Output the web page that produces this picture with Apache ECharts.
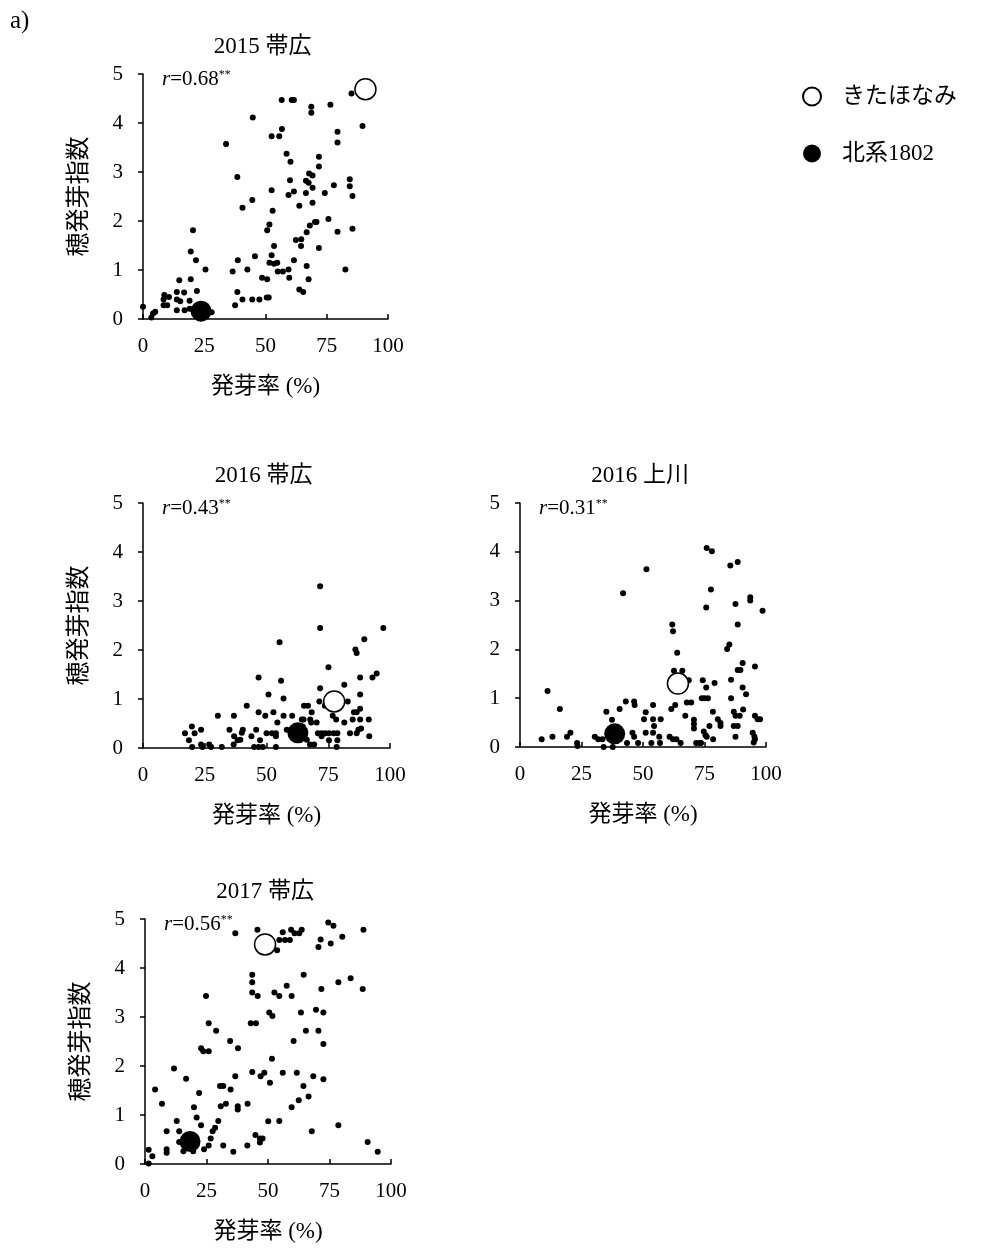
<!DOCTYPE html>
<html>
<head>
<meta charset="utf-8">
<script src="https://cdn.jsdelivr.net/npm/echarts@6/dist/echarts.min.js"></script>
<style>
  html, body { margin: 0; padding: 0; background: #fff; }
  #chart { width: 983px; height: 1251px; }
</style>
</head>
<body>
<div id="chart"></div>
<script>
// Germination rate (%) vs. pre-harvest sprouting index, one [x, y] pair per line
const obihiro2015 = [
  [85.1,4.6],[56.6,4.47],[60.7,4.47],[61.6,4.47],[68.7,4.33],[68.7,4.21],[76.5,4.37],[44.8,4.11],
  [89.6,3.94],[79.4,3.82],[79.4,3.6],[33.9,3.57],[52.5,3.73],[55.6,3.73],[56.7,3.88],[58.6,3.37],
  [60.2,3.21],[71.8,3.31],[71.8,3.11],[38.5,2.9],[60.0,2.83],[67.8,2.97],[69.2,2.93],[66.5,2.82],
  [67.6,2.78],[69.2,2.68],[84.4,2.85],[84.4,2.71],[85.5,2.51],[77.9,2.73],[74.2,2.57],[52.5,2.63],
  [59.4,2.53],[61.6,2.6],[66.5,2.57],[44.6,2.43],[40.6,2.27],[63.8,2.31],[69.2,2.37],[52.9,2.21],
  [75.7,2.04],[70.8,1.98],[70.2,1.98],[68.1,1.91],[51.6,1.93],[50.7,1.81],[85.5,1.84],[79.4,1.78],
  [66.8,1.77],[20.4,1.81],[62.4,1.61],[64.6,1.63],[64.5,1.49],[53.5,1.49],[71.8,1.45],[19.5,1.38],
  [21.6,1.2],[38.7,1.2],[45.7,1.28],[52.5,1.3],[51.6,1.15],[53.5,1.13],[54.8,1.15],[61.6,1.2],
  [25.5,1.01],[36.6,0.97],[42.6,1.01],[55.0,0.97],[57.1,0.97],[59.4,1.01],[66.8,1.08],[82.6,1.01],
  [14.8,0.79],[19.5,0.81],[48.6,0.84],[50.7,0.81],[59.7,0.84],[67.6,0.81],[22.0,0.57],[13.8,0.55],
  [16.8,0.54],[8.7,0.49],[10.6,0.45],[8.4,0.4],[13.8,0.4],[15.2,0.36],[19.0,0.37],[8.4,0.28],
  [9.9,0.28],[13.8,0.18],[17.0,0.18],[19.0,0.21],[21.4,0.16],[28.0,0.14],[38.5,0.55],[40.6,0.4],
  [44.6,0.4],[47.5,0.4],[50.5,0.44],[51.3,0.44],[37.6,0.28],[63.8,0.6],[65.4,0.55],[0,0.25],
  [3.4,0.03],[4.1,0.11],[5.0,0.15]
];

const obihiro2016 = [
  [71.7,3.3],[71.7,2.45],[97.3,2.45],[89.6,2.22],[55.3,2.16],[86.0,2.01],[86.5,1.94],[75.1,1.65],
  [94.6,1.52],[92.9,1.44],[87.9,1.44],[55.9,1.37],[46.8,1.44],[81.5,1.29],[71.7,1.22],[50.8,1.09],
  [87.9,1.09],[56.9,1.01],[42.0,0.86],[71.4,0.95],[82.9,0.95],[73.6,0.86],[65.2,0.86],[66.8,0.86],
  [30.3,0.66],[36.8,0.66],[46.8,0.73],[49.5,0.66],[52.8,0.73],[56.9,0.66],[60.4,0.66],[68.3,0.73],
  [76.8,0.66],[85.4,0.73],[86.5,0.73],[87.9,0.8],[84.9,0.58],[87.9,0.58],[91.4,0.58],[54.4,0.52],
  [64.3,0.58],[67.7,0.58],[70.3,0.52],[78.2,0.58],[81.5,0.52],[19.8,0.44],[17.0,0.3],[20.9,0.3],
  [23.5,0.37],[18.6,0.16],[19.9,0.02],[23.5,0.07],[26.8,0.07],[24.1,0.02],[27.6,0.02],[31.9,0.02],
  [35.0,0.37],[36.9,0.24],[38.3,0.16],[36.7,0.07],[39.4,0.17],[40.4,0.37],[40.0,0.31],[43.9,0.24],
  [45.8,0.37],[47.4,0.16],[45.0,0.02],[46.8,0.02],[48.5,0.02],[50.0,0.3],[52.2,0.3],[53.8,0.3],
  [53.8,0.24],[53.8,0.02],[58.2,0.37],[60.0,0.37],[65.0,0.58],[66.3,0.17],[67.6,0.07],[69.3,0.07],
  [70.8,0.3],[72.3,0.3],[72.3,0.24],[73.7,0.3],[75.3,0.3],[77.2,0.3],[78.7,0.3],[75.3,0.16],
  [78.7,0.16],[78.4,0.02],[83.8,0.3],[87.2,0.37],[88.3,0.4],[86.5,0.3],[91.6,0.24],[68.1,0.52],
  [64.6,0.44]
];

const kamikawa2016 = [
  [75.9,4.08],[78.0,4.01],[88.5,3.79],[85.5,3.72],[51.4,3.64],[77.6,3.23],[41.9,3.15],[93.6,3.07],
  [93.6,3.0],[98.6,2.79],[75.7,2.86],[87.6,2.93],[88.5,2.51],[61.9,2.51],[62.2,2.37],[63.9,1.93],
  [85.1,2.1],[84.2,2.01],[90.5,1.72],[88.5,1.58],[89.6,1.58],[95.5,1.65],[85.8,1.38],[62.6,1.56],
  [66.0,1.56],[68.6,1.37],[74.3,1.37],[75.7,1.22],[79.1,1.31],[90.5,1.22],[91.9,1.08],[85.8,1.0],
  [11.2,1.15],[16.2,0.78],[75.0,1.0],[76.4,1.0],[73.9,1.0],[67.8,0.91],[69.6,0.91],[63.1,0.86],
  [61.5,0.78],[43.0,0.93],[46.4,0.93],[46.6,0.86],[40.5,0.78],[35.1,0.72],[37.4,0.56],[51.1,0.71],
  [54.1,0.86],[50.4,0.57],[54.1,0.57],[57.2,0.57],[54.5,0.43],[51.1,0.29],[54.1,0.29],[56.6,0.21],
  [45.7,0.29],[46.4,0.21],[33.5,0.16],[30.4,0.21],[31.8,0.16],[34.0,0.0],[37.7,0.0],[43.5,0.08],
  [48.0,0.08],[53.4,0.08],[56.9,0.08],[8.8,0.16],[13.2,0.21],[19.1,0.21],[20.5,0.29],[23.2,0.08],
  [23.4,0.02],[60.8,0.21],[62.2,0.16],[63.6,0.16],[65.3,0.08],[67.2,0.64],[70.7,0.56],[70.7,0.47],
  [70.7,0.38],[71.6,0.08],[73.0,0.08],[73.6,0.08],[74.7,0.32],[75.4,0.24],[75.9,0.21],[78.5,0.16],
  [77.0,0.43],[78.4,0.72],[80.4,0.57],[81.5,0.43],[81.5,0.49],[86.9,0.72],[87.6,0.64],[89.3,0.64],
  [90.7,0.77],[86.9,0.43],[88.5,0.43],[87.6,0.21],[95.5,0.64],[96.6,0.57],[97.6,0.57],[94.6,0.29],
  [95.3,0.21],[95.5,0.16],[95.0,0.09]
];

const obihiro2017 = [
  [74.5,4.93],[76.6,4.86],[88.8,4.78],[80.2,4.64],[75.5,4.5],[71.4,4.58],[70.5,4.43],[63.7,4.78],
  [62.7,4.71],[60.8,4.71],[59.4,4.78],[56.0,4.73],[56.9,4.57],[58.9,4.57],[54.6,4.57],[53.7,4.36],
  [45.7,4.78],[36.7,4.71],[64.5,3.86],[83.6,3.79],[78.6,3.71],[88.5,3.57],[71.7,3.57],[57.6,3.64],
  [43.6,3.86],[43.6,3.71],[43.6,3.5],[45.8,3.43],[24.8,3.43],[52.6,3.5],[54.6,3.43],[59.6,3.43],
  [50.5,3.09],[51.8,3.02],[63.4,3.09],[69.5,3.15],[72.5,3.09],[43.0,2.87],[45.1,2.87],[25.9,2.87],
  [28.9,2.72],[65.4,2.72],[70.5,2.72],[72.5,2.45],[34.6,2.51],[37.8,2.36],[60.4,2.51],[22.8,2.36],
  [23.7,2.3],[25.9,2.3],[51.6,2.15],[11.8,1.95],[16.7,1.74],[36.7,1.79],[43.6,1.88],[47.0,1.79],
  [48.5,1.86],[50.8,1.66],[56.0,1.86],[61.7,1.86],[68.4,1.79],[72.5,1.73],[64.4,1.59],[66.5,1.38],
  [62.5,1.3],[59.6,1.16],[30.5,1.59],[31.8,1.59],[34.8,1.52],[22.0,1.45],[6.9,1.23],[4.1,1.52],
  [32.9,1.23],[30.8,1.18],[37.7,1.18],[37.7,1.11],[41.7,1.23],[19.9,1.16],[21.0,0.95],[22.8,0.79],
  [12.9,0.88],[8.8,0.67],[13.9,0.67],[29.8,0.88],[28.5,0.74],[27.5,0.67],[26.7,0.52],[25.9,0.38],
  [31.8,0.38],[35.9,0.25],[41.6,0.38],[44.9,0.59],[46.7,0.52],[47.8,0.52],[46.7,0.44],[50.1,0.87],
  [54.6,0.88],[67.8,0.67],[78.6,0.79],[90.5,0.45],[94.6,0.25],[1.5,0.29],[3.0,0.16],[1.5,0.01],
  [8.8,0.3],[8.8,0.23],[15.6,0.26],[19.6,0.26],[24.0,0.3],[13.9,0.45]
];

// Check cultivars, one point per panel (panel order: 2015 帯広, 2016 帯広, 2016 上川, 2017 帯広)
const kitahonami = [[90.8,4.69],[77.4,0.95],[64.2,1.3],[48.8,4.48]];
const hokkei1802 = [[23.7,0.16],[62.7,0.31],[38.5,0.27],[18.3,0.46]];

const panelTitles = ['2015 帯広', '2016 帯広', '2016 上川', '2017 帯広'];
const correlations = ['0.68', '0.43', '0.31', '0.56'];
const panelData = [obihiro2015, obihiro2016, kamikawa2016, obihiro2017];
const xTicks = [0, 25, 50, 75, 100];
const yTicks = [0, 1, 2, 3, 4, 5];

const nameKita = 'きたほなみ';
const nameHokkei = '北系1802';
const xName = '発芽率 (%)';
const yName = '穂発芽指数';

const FONT = "'Liberation Serif', 'Times New Roman', 'Noto Sans CJK JP', serif";

const grids = [
  { left: 143, top: 74, width: 245, height: 245 },
  { left: 143, top: 503, width: 247, height: 245 },
  { left: 520, top: 503, width: 246, height: 244 },
  { left: 145, top: 919, width: 246, height: 245 }
];
// panels in the left column carry the y-axis name
const showYName = [true, true, false, true];

const axisLine = { show: true, onZero: false, lineStyle: { color: '#000', width: 1.5 } };

const xAxes = grids.map((g, i) => ({
  type: 'value', gridIndex: i, min: xTicks[0], max: xTicks[xTicks.length - 1],
  interval: xTicks[1] - xTicks[0],
  axisLine: axisLine,
  axisTick: { show: true, inside: true, length: 5, lineStyle: { color: '#000', width: 1.5 } },
  axisLabel: { color: '#000', fontFamily: FONT, fontSize: 21, margin: 17 },
  splitLine: { show: false },
  name: xName, nameLocation: 'middle', nameGap: 56,
  nameTextStyle: { color: '#000', fontFamily: FONT, fontSize: 23 }
}));

const yAxes = grids.map((g, i) => ({
  type: 'value', gridIndex: i, min: yTicks[0], max: yTicks[yTicks.length - 1],
  interval: yTicks[1] - yTicks[0],
  axisLine: axisLine,
  axisTick: { show: true, inside: false, length: 5, lineStyle: { color: '#000', width: 1.5 } },
  axisLabel: { color: '#000', fontFamily: FONT, fontSize: 21, margin: 20 },
  splitLine: { show: false },
  name: showYName[i] ? yName : '', nameLocation: 'middle', nameGap: 51,
  nameTextStyle: { color: '#000', fontFamily: FONT, fontSize: 24 }
}));

const series = [];
panelData.forEach((pts, i) => {
  series.push({
    type: 'scatter', xAxisIndex: i, yAxisIndex: i, data: pts,
    symbol: 'circle', symbolSize: 6, silent: true, z: 2,
    itemStyle: { color: '#000', opacity: 1 }
  });
  series.push({
    name: nameHokkei, type: 'scatter', xAxisIndex: i, yAxisIndex: i, data: [hokkei1802[i]],
    symbol: 'circle', symbolSize: 21, z: 3,
    itemStyle: { color: '#000', opacity: 1 }
  });
  series.push({
    name: nameKita, type: 'scatter', xAxisIndex: i, yAxisIndex: i, data: [kitahonami[i]],
    symbol: 'circle', symbolSize: 21, z: 4,
    itemStyle: { color: '#fff', borderColor: '#000', borderWidth: 1.5, opacity: 1 }
  });
});

const graphics = [
  { type: 'text', x: 10, y: 21, style: { text: 'a)', font: '25px ' + FONT, fill: '#000', verticalAlign: 'middle' } }
];
grids.forEach((g, i) => {
  graphics.push({
    type: 'text', x: g.left + g.width / 2 - 3, y: g.top - 27,
    style: { text: panelTitles[i], font: '23px ' + FONT, fill: '#000', align: 'center', verticalAlign: 'middle' }
  });
  graphics.push({
    type: 'text', x: g.left + 19, y: g.top + 5,
    style: {
      text: '{i|r}{n|=' + correlations[i] + '}{s|**}',
      align: 'left', verticalAlign: 'middle',
      rich: {
        i: { fontFamily: FONT, fontStyle: 'italic', fontSize: 21, fill: '#000', color: '#000' },
        n: { fontFamily: FONT, fontSize: 21, fill: '#000', color: '#000' },
        s: { fontFamily: FONT, fontSize: 12, fill: '#000', color: '#000', verticalAlign: 'top', padding: [0, 0, 8, 0] }
      }
    }
  });
});

const chart = echarts.init(document.getElementById('chart'), null, { renderer: 'canvas' });
chart.setOption({
  backgroundColor: '#fff',
  animation: false,
  grid: grids.map(g => Object.assign({ containLabel: false }, g)),
  xAxis: xAxes,
  yAxis: yAxes,
  legend: {
    data: [nameKita, nameHokkei],
    orient: 'vertical', left: 797, top: 80,
    itemWidth: 18, itemHeight: 18, itemGap: 34,
    textStyle: { color: '#000', fontFamily: FONT, fontSize: 23, padding: [0, 0, 0, 16] },
    selectedMode: false
  },
  graphic: graphics,
  series: series
});
</script>
</body>
</html>
